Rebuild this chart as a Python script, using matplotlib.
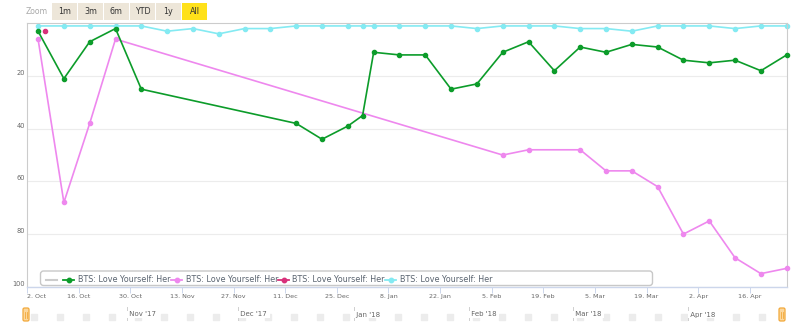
import matplotlib

matplotlib.use("Agg")
import matplotlib.pyplot as plt
import matplotlib.transforms as mtransforms
from matplotlib.patches import FancyBboxPatch, Rectangle
import numpy as np
import pandas as pd

plt.rcParams["font.family"] = "DejaVu Sans"

# ── data ────────────────────────────────────────────────
series_name = "BTS: Love Yourself: Her"

green_dates = ["2017-10-05", "2017-10-12", "2017-10-19", "2017-10-26", "2017-11-02",
               "2017-12-14", "2017-12-21", "2017-12-28", "2018-01-01", "2018-01-04",
               "2018-01-11", "2018-01-18", "2018-01-25", "2018-02-01", "2018-02-08",
               "2018-02-15", "2018-02-22", "2018-03-01", "2018-03-08", "2018-03-15",
               "2018-03-22", "2018-03-29", "2018-04-05", "2018-04-12", "2018-04-19",
               "2018-04-26"]
green_rank = [3, 21, 7, 2, 25, 38, 44, 39, 35, 11, 12, 12, 25, 23, 11, 7, 18, 9,
              11, 8, 9, 14, 15, 14, 18, 12]

pink_dates = ["2017-10-05", "2017-10-12", "2017-10-19", "2017-10-26", "2018-02-08",
              "2018-02-15", "2018-03-01", "2018-03-08", "2018-03-15", "2018-03-22",
              "2018-03-29", "2018-04-05", "2018-04-12", "2018-04-19", "2018-04-26"]
pink_rank = [6, 68, 38, 6, 50, 48, 48, 56, 56, 62, 80, 75, 89, 95, 93]

crimson_dates = ["2017-10-07"]
crimson_rank = [3]

cyan_dates = ["2017-10-05", "2017-10-12", "2017-10-19", "2017-10-26", "2017-11-02",
              "2017-11-09", "2017-11-16", "2017-11-23", "2017-11-30", "2017-12-07",
              "2017-12-14", "2017-12-21", "2017-12-28", "2018-01-01", "2018-01-04",
              "2018-01-11", "2018-01-18", "2018-01-25", "2018-02-01", "2018-02-08",
              "2018-02-15", "2018-02-22", "2018-03-01", "2018-03-08", "2018-03-15",
              "2018-03-22", "2018-03-29", "2018-04-05", "2018-04-12", "2018-04-19",
              "2018-04-26"]
cyan_rank = [1, 1, 1, 1, 1, 3, 2, 4, 2, 2, 1, 1, 1, 1, 1, 1, 1, 1, 2, 1, 1, 1, 2,
             2, 3, 1, 1, 1, 2, 1, 1]

x_ticks = pd.date_range("2017-10-02", "2018-04-16", freq="14D")
y_ticks = [20, 40, 60, 80, 100]
nav_months = ["2017-11-01", "2017-12-01", "2018-01-01", "2018-02-01",
              "2018-03-01", "2018-04-01"]
nav_labels = ["Nov '17", "Dec '17", "Jan '18", "Feb '18", "Mar '18", "Apr '18"]
buttons = ["1m", "3m", "6m", "YTD", "1y", "All"]

# ── colours ─────────────────────────────────────────────
C_GREEN = "#0c9c2a"
C_PINK = "#ee88ee"
C_CRIMSON = "#d8307a"
C_CYAN = "#84eaf2"
C_GRID = "#ececec"
C_BORDER = "#cccccc"
C_TEXT = "#666666"

W, H = 800, 333
fig = plt.figure(figsize=(W / 100, H / 100), dpi=100)

# main plot (pixel box 27..786.7 x 23.3..286.8)
ax = fig.add_axes([27 / W, (H - 286.8) / H, (786.7 - 27) / W, (286.8 - 23.3) / H])
ax.set_xlim(pd.Timestamp("2017-10-02"), pd.Timestamp("2018-04-26"))
ax.set_ylim(100, 0)

for dates, ranks, col, z in [
    (green_dates, green_rank, C_GREEN, 4),
    (pink_dates, pink_rank, C_PINK, 3),
    (crimson_dates, crimson_rank, C_CRIMSON, 5),
    (cyan_dates, cyan_rank, C_CYAN, 2),
]:
    ax.plot(pd.to_datetime(dates), ranks, color=col, lw=1.2, marker="o",
            ms=3.0, mec=col, zorder=z, clip_on=False)

ax.set_yticks(y_ticks)
ax.yaxis.grid(True, color=C_GRID, lw=0.8)
ax.set_axisbelow(True)
ax.tick_params(axis="y", length=0, pad=1.5, labelsize=4.8, labelcolor=C_TEXT)
offset = mtransforms.ScaledTranslation(0, 3.5 / 100, fig.dpi_scale_trans)
for lab in ax.get_yticklabels():
    lab.set_transform(lab.get_transform() + offset)

ax.set_xticks(x_ticks)
ax.set_xticklabels([f"{d.day}. {d.strftime('%b')}" for d in x_ticks])
ax.tick_params(axis="x", length=4, width=0.7, color="#ccd6eb", pad=1.5,
               labelsize=4.6, labelcolor=C_TEXT)
ax.get_xticklabels()[0].set_horizontalalignment("left")

for side in ["top", "left", "right"]:
    ax.spines[side].set_color(C_BORDER)
    ax.spines[side].set_linewidth(0.8)
ax.spines["bottom"].set_color("#ccd6eb")
ax.spines["bottom"].set_linewidth(1.0)

# ── overlay in pixel coordinates ────────────────────────
ov = fig.add_axes([0, 0, 1, 1], zorder=10)
ov.set_xlim(0, W)
ov.set_ylim(H, 0)
ov.axis("off")
ov.patch.set_alpha(0)

# range selector
ov.text(26, 11.5, "Zoom", ha="left", va="center", fontsize=5.6, color="#aaaaaa")
for i, b in enumerate(buttons):
    x0 = 52 + i * 26
    fc = "#ffe11a" if b == "All" else "#ede6d9"
    ov.add_patch(Rectangle((x0, 2.7), 25, 17.3, facecolor=fc, edgecolor="none"))
    ov.text(x0 + 12.5, 11.5, b, ha="center", va="center", fontsize=5.8, color="#333333")

# legend
ov.add_patch(FancyBboxPatch((40.5, 271), 612, 14.5,
             boxstyle="round,pad=0,rounding_size=3",
             facecolor="white", edgecolor="#c8c8c8", lw=1.0))
ly = 279.5
ov.plot([46, 57], [ly, ly], color="#cccccc", lw=1.5)
for x0, col in [(63, C_GREEN), (171, C_PINK), (278, C_CRIMSON), (385, C_CYAN)]:
    ov.plot([x0, x0 + 11], [ly, ly], color=col, lw=1.3)
    ov.plot([x0 + 5.5], [ly], marker="o", ms=3.2, color=col)
    ov.text(x0 + 14.5, ly, series_name, ha="left", va="center",
            fontsize=5.8, color="#5a6470")

# navigator
nav = fig.add_axes([26.5 / W, (H - 326) / H, (781 - 26.5) / W, 22 / H], zorder=5)
nav.set_xlim(pd.Timestamp("2017-10-05"), pd.Timestamp("2018-04-26"))
nav.set_ylim(0, 22)
nav.axis("off")
weeks = pd.date_range("2017-10-07", "2018-04-21", freq="7D")
nav.scatter(weeks, np.full(len(weeks), 9.5), marker="s", s=24, color="#ececec",
            zorder=1, clip_on=False)
for d, lab in zip(pd.to_datetime(nav_months), nav_labels):
    nav.plot([d, d], [6, 19.3], color="#cfcfcf", lw=0.7, zorder=2)
    nav.text(d, 11.5, " " + lab + " ", ha="left", va="center", fontsize=5,
             color=C_TEXT, zorder=3,
             bbox=dict(facecolor="white", edgecolor="none", pad=0.3))

for hx in [26, 782]:
    ov.add_patch(FancyBboxPatch((hx - 3, 308), 6, 13,
                 boxstyle="round,pad=0,rounding_size=1.5",
                 facecolor="#fcd79c", edgecolor="#f2a93b", lw=0.9, zorder=6))
    ov.plot([hx - 0.8, hx - 0.8], [311.5, 317.5], color="#f2a93b", lw=0.6, zorder=7)
    ov.plot([hx + 0.8, hx + 0.8], [311.5, 317.5], color="#f2a93b", lw=0.6, zorder=7)

fig.savefig("out.png", dpi=100)
